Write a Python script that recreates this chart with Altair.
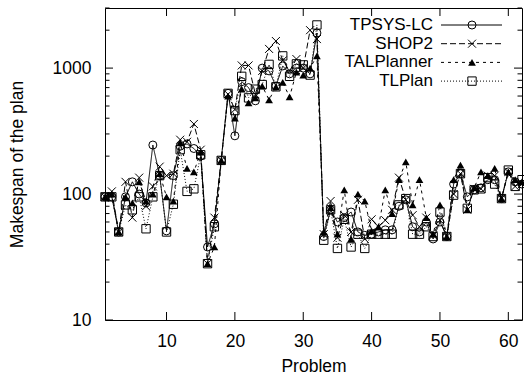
import altair as alt
import pandas as pd

problems = list(range(1, 63))

tpsys = [95, 95, 50, 95, 125, 100, 85, 245, 140, 51,
         140, 240, 250, 230, 200, 38, 58, 185, 630, 290,
         780, 700, 550, 1000, 950, 720, 1040, 900, 1000, 1000,
         900, 1900, 46, 75, 60, 65, 72, 50, 47, 48,
         50, 52, 52, 80, 90, 55, 50, 60, 44, 60,
         46, 120, 145, 95, 108, 112, 130, 130, 92, 150,
         125, 120]
shop2 = [95, 105, 50, 125, 65, 135, 80, 115, 165, 140,
         145, 270, 260, 360, 225, 28, 65, 185, 620, 470,
         1050, 1050, 620, 950, 1420, 1640, 1150, 950, 1180, 1000,
         2000, 1700, 48, 88, 45, 68, 50, 90, 44, 63,
         55, 62, 75, 135, 90, 68, 55, 65, 47, 62,
         46, 100, 145, 75, 110, 110, 140, 140, 92, 150,
         115, 120]
talplanner = [95, 100, 50, 95, 85, 125, 88, 100, 145, 95,
              88, 255, 160, 150, 215, 28, 38, 185, 600, 400,
              680, 530, 580, 720, 560, 710, 770, 590, 930, 880,
              1000, 1250, 50, 78, 48, 108, 44, 100, 88, 51,
              55, 108, 70, 130, 180, 82, 130, 65, 48, 82,
              46, 130, 170, 75, 112, 150, 140, 160, 92, 150,
              130, 125]
tlplan = [95, 95, 50, 82, 75, 95, 53, 95, 140, 50,
          83, 225, 105, 110, 205, 28, 55, 185, 630, 460,
          860, 580, 680, 740, 1070, 710, 1250, 860, 1080, 1060,
          880, 2200, 43, 75, 37, 63, 38, 48, 37, 48,
          48, 48, 48, 82, 92, 48, 48, 55, 46, 72,
          46, 98, 145, 77, 108, 110, 135, 120, 92, 155,
          115, 130]

series_names = ["TPSYS-LC", "SHOP2", "TALPlanner", "TLPlan"]
series_values = [tpsys, shop2, talplanner, tlplan]

y_major = [10, 100, 1000]
y_minor = [20, 30, 40, 50, 60, 70, 80, 90,
           200, 300, 400, 500, 600, 700, 800, 900, 2000, 3000]
x_ticks = [10, 20, 30, 40, 50, 60]

W, H = 417, 312
FONT = "Liberation Sans"
FS = 17.5

dashes = [[1, 0], [6, 3], [3, 4], [1, 2]]
X_PATH = "M-1,-1L1,1M-1,1L1,-1"
shapes = ["circle", X_PATH, "triangle-up", "square"]
filled = [False, False, True, False]
sizes = [64, 64, 60, 70]

xscale = alt.Scale(domain=[1, 62], nice=False, zero=False)
yscale = alt.Scale(type="log", domain=[10, 3000], nice=False)

xaxis = alt.Axis(values=x_ticks, ticks=False, domain=False, grid=False,
                 labelFontSize=FS, labelPadding=12, labelFont=FONT,
                 labelColor="black", title="Problem", titleFont=FONT,
                 titleFontSize=FS, titleFontWeight="normal", titleColor="black",
                 titlePadding=8)
yaxis = alt.Axis(values=y_major, ticks=False, domain=False, grid=False,
                 labelFontSize=FS, labelPadding=14, labelFont=FONT,
                 labelColor="black", title="Makespan of the plan", titleFont=FONT,
                 titleFontSize=FS, titleFontWeight="normal", titleColor="black",
                 titlePadding=26, format="d")

layers = []
for i, (name, vals) in enumerate(zip(series_names, series_values)):
    df = pd.DataFrame({"problem": problems, "value": vals})
    base = alt.Chart(df).encode(
        x=alt.X("problem:Q", scale=xscale, axis=xaxis),
        y=alt.Y("value:Q", scale=yscale, axis=yaxis),
    )
    layers.append(base.mark_line(color="black", strokeWidth=1,
                                 strokeDash=dashes[i], clip=True))
    layers.append(base.mark_point(shape=shapes[i], filled=filled[i],
                                  color="black", size=sizes[i], strokeWidth=1,
                                  opacity=1))

# tick marks (inward, mirrored)
ymaj = pd.DataFrame({"v": y_major})
ymin = pd.DataFrame({"v": y_minor})
xt = pd.DataFrame({"p": x_ticks})
for d, L in [(ymaj, 8), (ymin, 4.5)]:
    yb = alt.Chart(d).encode(y=alt.Y("v:Q", scale=yscale, axis=yaxis))
    layers.append(yb.mark_rule(color="black", strokeWidth=1).encode(
        x=alt.value(0), x2=alt.value(L)))
    layers.append(yb.mark_rule(color="black", strokeWidth=1).encode(
        x=alt.value(W), x2=alt.value(W - L)))
xb = alt.Chart(xt).encode(x=alt.X("p:Q", scale=xscale, axis=xaxis))
layers.append(xb.mark_rule(color="black", strokeWidth=1).encode(
    y=alt.value(H), y2=alt.value(H - 8)))
layers.append(xb.mark_rule(color="black", strokeWidth=1).encode(
    y=alt.value(0), y2=alt.value(8)))

# legend (inside, top-right)
for i, name in enumerate(series_names):
    ly = 17 + 18.7 * i
    ld = pd.DataFrame({"name": [name]})
    lc = alt.Chart(ld)
    layers.append(lc.mark_text(align="right", baseline="middle", font=FONT,
                               fontSize=17, color="black").encode(
        text="name:N", x=alt.value(328), y=alt.value(ly)))
    layers.append(lc.mark_rule(color="black", strokeWidth=1,
                               strokeDash=dashes[i]).encode(
        x=alt.value(336), x2=alt.value(397), y=alt.value(ly)))
    layers.append(lc.mark_point(shape=shapes[i], filled=filled[i], color="black",
                                size=sizes[i], strokeWidth=1, opacity=1).encode(
        x=alt.value(367), y=alt.value(ly)))

chart = alt.layer(*layers).properties(
    width=W, height=H,
    autosize=alt.AutoSizeParams(type="none"),
    padding={"left": 105, "top": 8, "right": 2, "bottom": 62},
    background="white",
).configure_view(stroke="black", strokeWidth=1)

chart.save("out.html", embed_options={"renderer": "svg", "actions": False})
